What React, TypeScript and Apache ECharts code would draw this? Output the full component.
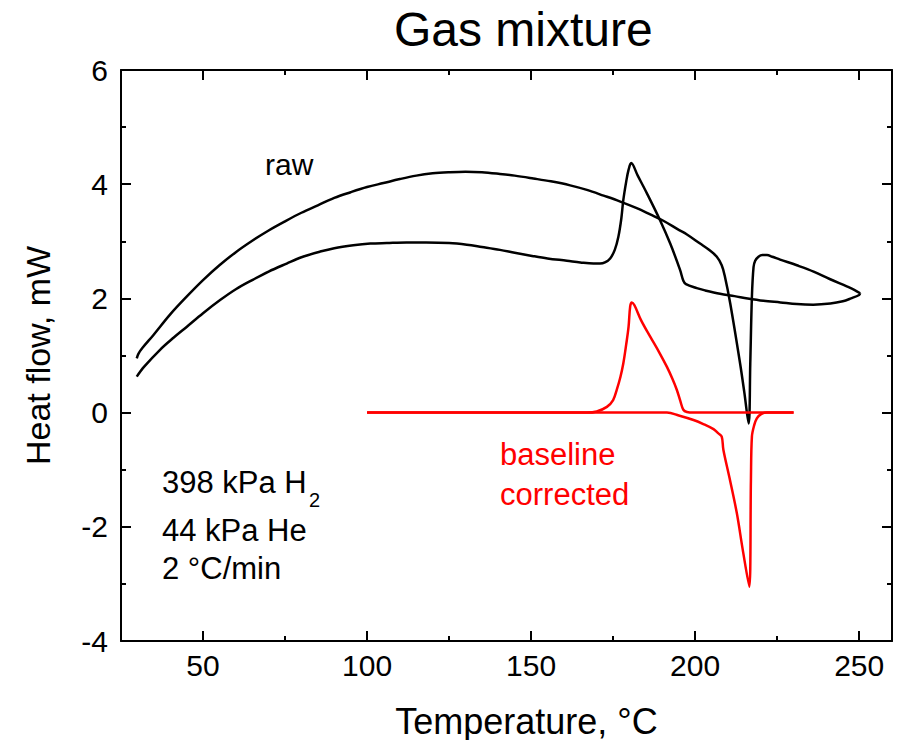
import React, { useEffect, useRef } from "react";
import * as echarts from "echarts";

// Raw DSC signal, heating branch (Temperature °C, Heat flow mW)
const rawHeating: [number, number][] = [
  [29.8, 0.63], [32, 0.8], [36.9, 1.1], [41, 1.31], [45, 1.5], [50, 1.74], [55.2, 1.97],
  [60, 2.16], [65.3, 2.33], [70, 2.47], [75.5, 2.61], [80, 2.72], [85.7, 2.82], [90, 2.88],
  [95.8, 2.93], [101, 2.96], [106, 2.97], [112, 2.98], [118, 2.98], [125, 2.97],
  [130.4, 2.94], [135, 2.9], [140.5, 2.85], [145, 2.8], [150.7, 2.74], [155, 2.7],
  [160.9, 2.66], [165, 2.63], [169, 2.61], [171, 2.61], [172.5, 2.63], [174.1, 2.7],
  [175.5, 2.85], [176.6, 3.08], [177.5, 3.4], [178.1, 3.72], [179, 4.05], [179.7, 4.25],
  [180.5, 4.37], [182.5, 4.15], [185.3, 3.84], [189.3, 3.37], [192.4, 2.96], [195.4, 2.5],
  [196.4, 2.31], [197.2, 2.25], [200.5, 2.18], [203, 2.14], [207.6, 2.08], [212, 2.04],
  [216, 2.0], [220.8, 1.96], [226, 1.93], [231, 1.9], [236, 1.89], [241.2, 1.91],
  [245, 1.95], [247.5, 2.0], [250, 2.06], [250.3, 2.09],
];

// Raw DSC signal, cooling branch
const rawCooling: [number, number][] = [
  [250.3, 2.09], [248.5, 2.15], [246.2, 2.21], [241, 2.34], [236.1, 2.47], [231, 2.58],
  [225.9, 2.68], [223.5, 2.73], [221.9, 2.76], [220.5, 2.76], [219.3, 2.73], [218.3, 2.66],
  [217.8, 2.55], [217.3, 2.03], [216.8, 0.86], [216.3, -0.19], [215, 0.35], [213.7, 0.86],
  [210.7, 1.91], [209, 2.4], [208.1, 2.58], [206.6, 2.73], [204, 2.86], [201.5, 2.96],
  [197.5, 3.12], [195, 3.2], [190.3, 3.36], [186.3, 3.47], [182.2, 3.58], [177, 3.7],
  [172.1, 3.8], [167, 3.9], [161.9, 3.98], [156, 4.05], [150.7, 4.1], [145, 4.15],
  [140.5, 4.18], [135, 4.21], [130, 4.22], [125, 4.21], [120, 4.19], [115, 4.15],
  [110, 4.09], [105, 4.02], [100, 3.95], [95, 3.86], [90, 3.76], [85, 3.63], [80, 3.5],
  [75, 3.35], [70, 3.19], [65, 3.01], [60, 2.81], [55, 2.58], [50, 2.32], [45, 2.03],
  [40, 1.72], [34.9, 1.36], [31.5, 1.13], [30.3, 1.03], [29.8, 0.95],
];

// Baseline-corrected signal, heating branch
const corrHeating: [number, number][] = [
  [100, 0], [150, 0], [167, 0], [170, 0.02], [173.1, 0.1], [175, 0.22], [176.1, 0.4],
  [177.2, 0.62], [178.1, 0.86], [179, 1.2], [179.7, 1.5], [180.2, 1.86], [180.7, 1.93],
  [181.5, 1.88], [183.5, 1.62], [186.3, 1.33], [189, 1.06], [191.4, 0.8], [193, 0.6],
  [194.4, 0.4], [195.5, 0.2], [196.4, 0.05], [197.5, 0.01], [199.5, 0], [230, 0],
];

// Baseline-corrected signal, cooling branch
const corrCooling: [number, number][] = [
  [230, 0], [221.9, 0], [220, -0.03], [218.8, -0.1], [218, -0.22], [217.3, -0.42],
  [217, -1.18], [216.5, -3.05], [214.5, -2.4], [212.7, -1.76], [210.5, -1.15], [208.6, -0.65],
  [208.1, -0.42], [207, -0.36], [205.6, -0.29], [202.5, -0.2], [199.5, -0.13], [195, -0.05],
  [191.4, 0], [100, 0],
];

const xMajorTicks = [50, 100, 150, 200, 250];
const xMinorTicks = [75, 125, 175, 225];
const X_MIN = 25;
const X_MAX = 260;
const Y_MIN = -4;
const Y_MAX = 6;
const Y_INTERVAL = 2;

const FONT = "'Liberation Sans', Arial, sans-serif";

export default function App() {
  const ref = useRef<HTMLDivElement>(null);

  useEffect(() => {
    const chart = echarts.init(ref.current!, null, { renderer: "svg" });
    const line = { color: "#000", width: 2 };
    const xCommon = {
      type: "value",
      min: X_MIN,
      max: X_MAX,
      splitLine: { show: false },
      gridIndex: 0,
    };
    const yCommon = {
      type: "value",
      min: Y_MIN,
      max: Y_MAX,
      interval: Y_INTERVAL,
      splitLine: { show: false },
      axisLine: { show: true, onZero: false, lineStyle: line },
      axisTick: { show: true, inside: true, length: 10, lineStyle: line },
      minorTick: { show: true, splitNumber: 2, length: 5, lineStyle: line },
    };
    const seriesBase = { type: "line", showSymbol: false, smooth: 0.35 };
    chart.setOption({
      animation: false,
      backgroundColor: "#fff",
      title: {
        text: "Gas mixture",
        left: 394,
        top: 5,
        padding: 0,
        textStyle: { fontFamily: FONT, fontSize: 48, fontWeight: "normal", color: "#000" },
      },
      grid: { left: 121, right: 6, top: 70, bottom: 99, outerBoundsMode: "none", containLabel: false },
      xAxis: [
        {
          ...xCommon,
          position: "bottom",
          axisLine: { show: true, onZero: false, lineStyle: line },
          axisTick: { show: true, inside: true, length: 10, lineStyle: line, customValues: xMajorTicks },
          axisLabel: { customValues: xMajorTicks, fontSize: 30, color: "#000", fontFamily: FONT, margin: 9 },
          name: "Temperature, °C",
          nameLocation: "middle",
          nameGap: 62,
          nameMoveOverlap: false,
          nameTextStyle: { fontFamily: FONT, fontSize: 36, color: "#000", padding: [0, 0, 0, 40] },
        },
        {
          ...xCommon,
          position: "top",
          axisLine: { show: true, onZero: false, lineStyle: line },
          axisTick: { show: true, inside: true, length: 10, lineStyle: line, customValues: xMajorTicks },
          axisLabel: { show: false },
        },
        {
          ...xCommon,
          position: "bottom",
          axisLine: { show: false, onZero: false },
          axisTick: { show: true, inside: true, length: 5, lineStyle: line, customValues: xMinorTicks },
          axisLabel: { show: false },
        },
        {
          ...xCommon,
          position: "top",
          axisLine: { show: false, onZero: false },
          axisTick: { show: true, inside: true, length: 5, lineStyle: line, customValues: xMinorTicks },
          axisLabel: { show: false },
        },
      ],
      yAxis: [
        {
          ...yCommon,
          position: "left",
          axisLabel: { fontSize: 30, color: "#000", fontFamily: FONT, margin: 13 },
          name: "Heat flow, mW",
          nameLocation: "middle",
          nameGap: 66,
          nameRotate: 90,
          nameMoveOverlap: false,
          nameTextStyle: { fontFamily: FONT, fontSize: 34, color: "#000" },
        },
        {
          ...yCommon,
          position: "right",
          axisLabel: { show: false },
        },
      ],
      series: [
        { ...seriesBase, name: "raw heating", data: rawHeating, lineStyle: { color: "#000", width: 2.5 }, itemStyle: { color: "#000" } },
        { ...seriesBase, name: "raw cooling", data: rawCooling, lineStyle: { color: "#000", width: 2.5 }, itemStyle: { color: "#000" } },
        { ...seriesBase, name: "corrected heating", data: corrHeating, lineStyle: { color: "#ff0000", width: 2.5 }, itemStyle: { color: "#ff0000" } },
        { ...seriesBase, name: "corrected cooling", data: corrCooling, lineStyle: { color: "#ff0000", width: 2.5 }, itemStyle: { color: "#ff0000" } },
      ],
      graphic: [
        { type: "text", left: 265, top: 149, style: { text: "raw", font: `30px ${FONT}`, fill: "#000" } },
        { type: "text", left: 500, top: 439, style: { text: "baseline", font: `31px ${FONT}`, fill: "#ff0000" } },
        { type: "text", left: 500, top: 479, style: { text: "corrected", font: `31px ${FONT}`, fill: "#ff0000" } },
        { type: "text", left: 162, top: 467, style: { text: "398 kPa H", font: `31px ${FONT}`, fill: "#000" } },
        { type: "text", left: 309, top: 490, style: { text: "2", font: `20px ${FONT}`, fill: "#000" } },
        { type: "text", left: 162, top: 515, style: { text: "44 kPa He", font: `31px ${FONT}`, fill: "#000" } },
        { type: "text", left: 162, top: 553, style: { text: "2 °C/min", font: `31px ${FONT}`, fill: "#000" } },
      ],
    });
    return () => chart.dispose();
  }, []);

  return <div ref={ref} style={{ position: "absolute", left: 0, top: 0, width: 898, height: 740 }} />;
}
